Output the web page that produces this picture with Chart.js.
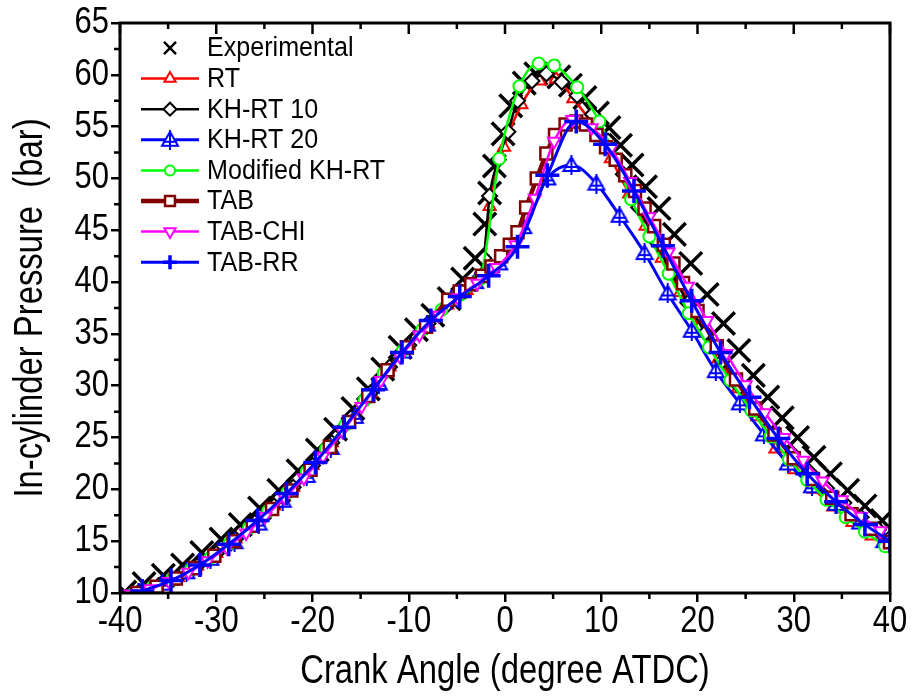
<!DOCTYPE html>
<html>
<head>
<meta charset="utf-8">
<script src="https://cdn.jsdelivr.net/npm/chart.js@4.4.1/dist/chart.umd.min.js"></script>
<style>
  html, body { margin: 0; padding: 0; background: #fff; }
  #wrap { width: 914px; height: 700px; }
</style>
</head>
<body>
<div id="wrap"><canvas id="c" width="914" height="700"></canvas></div>
<script>
// 曲柄角 / 缸内压力 数据
const expAngle = [-39.5, -37.5, -35.5, -33.5, -31.5, -29.5, -27.5, -25.5, -23.5, -21.5, -19.5, -17.6, -15.8, -14.2, -12.7, -10.9, -9.2, -7.5, -5.8, -4.4, -3.1, -2.1, -1.6, -1.1, -0.2, 0.6, 2.0, 3.2, 4.4, 5.6, 6.8, 8.3, 9.6, 10.8, 12.0, 13.2, 14.6, 16.0, 17.6, 19.3, 21.0, 22.7, 24.3, 25.8, 27.3, 28.8, 30.4, 32.1, 33.8, 35.6, 37.4, 39.2];
const expP = [10.1, 10.9, 11.7, 12.7, 13.9, 15.2, 16.6, 18.2, 19.9, 21.8, 23.8, 25.8, 27.8, 29.7, 31.6, 33.7, 35.4, 36.8, 38.4, 40.3, 42.3, 45.6, 48.6, 51.2, 54.3, 57.0, 59.2, 60.1, 60.3, 59.8, 59.0, 57.8, 56.3, 54.9, 53.2, 51.3, 49.2, 47.1, 44.6, 41.8, 38.8, 36.0, 33.4, 31.0, 28.9, 26.9, 25.0, 23.1, 21.5, 19.9, 18.4, 17.0];

const rtAngle = [-38, -36, -34, -32, -30, -28, -26, -24, -22, -20, -18, -16, -14, -12, -10, -8, -6, -4, -2.5, -1.6, -0.1, 1.7, 3.6, 5.3, 7.1, 9.0, 11.0, 12.9, 14.6, 16.3, 18.2, 20.2, 22.2, 24.2, 26.2, 28.1, 30.1, 32.1, 34.1, 36.1, 38.1, 40];
const rtP = [10.1, 10.7, 11.5, 12.6, 13.8, 15.2, 16.8, 18.4, 20.2, 22.3, 24.5, 26.9, 29.3, 31.8, 33.9, 36.0, 37.8, 39.2, 40.5, 47.3, 53.0, 57.1, 59.4, 59.6, 57.7, 55.3, 51.9, 48.5, 45.4, 42.3, 39.0, 35.7, 32.6, 29.7, 27.0, 23.9, 21.9, 20.0, 18.3, 16.8, 15.5, 14.5];

const kh10Angle = [-38, -36, -34, -32, -30, -28, -26, -24, -22, -20, -18, -16, -14, -12, -10, -8, -6, -4.5, -3.0, -2.2, -1.6, -0.7, 0.3, 1.3, 2.8, 4.3, 5.9, 7.5, 9.1, 10.7, 12.3, 13.9, 15.6, 17.3, 19.0, 20.8, 22.6, 24.4, 26.2, 28.0, 29.8, 31.6, 33.4, 35.2, 37.0, 38.8, 40];
const kh10P = [10.1, 10.7, 11.5, 12.6, 13.8, 15.2, 16.8, 18.4, 20.2, 22.3, 24.5, 26.9, 29.3, 31.8, 33.9, 36.0, 37.8, 39.0, 40.1, 42.3, 48.3, 51.8, 54.5, 57.5, 59.4, 60.1, 59.3, 58.0, 56.2, 53.6, 50.4, 47.2, 44.0, 40.9, 38.0, 35.1, 32.4, 29.9, 27.6, 25.4, 23.5, 21.7, 20.1, 18.7, 17.3, 16.1, 15.3];

const kh20Angle = [-38.1, -35.6, -33.1, -30.6, -28.1, -25.6, -23.1, -20.6, -18.1, -15.6, -13.1, -10.6, -8.1, -5.6, -3.1, -0.6, 1.9, 4.4, 6.9, 9.5, 11.9, 14.5, 16.9, 19.4, 21.9, 24.4, 26.9, 29.4, 31.9, 34.4, 36.9, 39.4];
const kh20P = [10.0, 10.9, 12.0, 13.3, 14.9, 16.7, 18.9, 21.3, 24.0, 27.0, 30.2, 33.3, 35.9, 38.3, 40.0, 41.8, 45.3, 50.0, 51.3, 49.5, 46.4, 42.8, 38.9, 35.3, 31.4, 28.3, 25.3, 22.5, 20.3, 18.6, 16.8, 15.0];

const modAngle = [-38.6, -36.6, -34.6, -32.6, -30.6, -28.6, -26.6, -24.6, -22.6, -20.6, -18.6, -16.6, -14.6, -12.6, -10.6, -8.6, -6.6, -4.6, -2.6, -0.6, 1.5, 3.5, 5.1, 7.5, 9.8, 11.5, 13.1, 15.0, 17.0, 19.1, 21.2, 23.4, 25.6, 27.6, 29.5, 31.4, 33.4, 35.4, 37.4, 39.5];
const modP = [9.9, 10.5, 11.3, 12.3, 13.4, 14.8, 16.3, 17.9, 19.7, 21.7, 23.9, 26.2, 28.6, 31.2, 33.4, 35.4, 37.3, 38.8, 40.3, 51.9, 58.9, 61.1, 60.9, 58.8, 55.5, 51.9, 48.0, 44.4, 40.8, 37.0, 33.7, 30.5, 27.6, 25.1, 22.9, 20.9, 19.0, 17.3, 15.9, 14.5];

const tabAngle = [-38.2, -36.2, -34.2, -32.2, -30.2, -28.2, -26.2, -24.2, -22.2, -20.2, -18.2, -16.2, -14.2, -12.2, -10.2, -8.2, -5.9, -4.7, -3.5, -2.4, -1.4, -0.4, 0.5, 1.3, 2.2, 3.3, 4.3, 5.2, 6.3, 7.4, 8.4, 9.5, 10.5, 11.5, 12.5, 13.5, 14.5, 15.5, 16.5, 17.5, 18.5, 20.0, 22.0, 24.0, 26.0, 28.0, 30.0, 32.0, 34.0, 36.0, 38.0, 40.0];
const tabP = [10.0, 10.6, 11.4, 12.4, 13.6, 15.0, 16.5, 18.1, 19.9, 21.9, 24.1, 26.5, 29.0, 31.5, 33.7, 35.7, 38.3, 39.1, 39.8, 40.6, 41.5, 42.5, 43.6, 44.8, 47.2, 50.0, 52.4, 54.2, 55.2, 55.5, 55.2, 54.2, 53.0, 51.8, 50.3, 48.8, 47.1, 45.4, 43.6, 41.8, 39.9, 37.2, 33.8, 30.6, 27.8, 25.3, 23.0, 21.0, 19.2, 17.6, 16.2, 14.9];

const chiAngle = [-38.9, -36.9, -34.9, -32.9, -30.9, -28.9, -26.9, -24.9, -22.9, -20.9, -18.9, -16.9, -14.9, -12.9, -10.9, -8.9, -6.9, -4.9, -2.9, -0.9, 1.1, 3.1, 5.1, 7.0, 9.0, 11.0, 13.0, 15.0, 17.0, 19.0, 21.0, 23.0, 25.0, 27.0, 29.0, 31.0, 33.0, 35.0, 37.0, 39.0];
const chiP = [9.9, 10.4, 11.1, 12.0, 13.1, 14.4, 15.8, 17.4, 19.2, 21.1, 23.2, 25.6, 28.0, 30.5, 32.8, 34.9, 36.8, 38.5, 39.9, 41.4, 43.6, 48.1, 53.6, 55.7, 54.9, 52.9, 49.7, 46.3, 42.9, 39.6, 36.3, 33.1, 30.1, 27.4, 25.0, 22.8, 20.8, 19.0, 17.4, 16.0];

const rrAngle = [-37.7, -34.7, -31.7, -28.7, -25.7, -22.7, -19.7, -16.7, -13.7, -10.7, -7.7, -4.7, -1.7, 1.3, 4.4, 7.4, 10.4, 13.4, 16.4, 19.4, 22.4, 25.4, 28.4, 31.4, 34.4, 37.4, 40];
const rrP = [10.2, 11.2, 12.7, 14.7, 17.0, 19.6, 22.6, 26.0, 29.6, 33.2, 36.3, 38.6, 40.6, 43.4, 50.3, 55.5, 53.3, 48.8, 43.5, 38.2, 33.2, 28.9, 24.9, 21.5, 18.8, 16.6, 15.0];

const xTicksStep = 10;
const yTicksStep = 5;
const xTitle = 'Crank Angle (degree ATDC)';
const yTitle = 'In-cylinder Pressure  (bar)';

const FONT = '"Liberation Sans", Arial, sans-serif';

function pts(a, p) {
    return a.map((v, i) => ({ x: v, y: p[i] }));
}

// 窄体文字（原图为 Arial Narrow 风格）
function narrowText(ctx, text, x, y, size, sx, align, rot) {
    ctx.save();
    ctx.translate(x, y);
    if (rot) ctx.rotate(rot);
    ctx.scale(sx, 1);
    ctx.font = size + 'px ' + FONT;
    ctx.fillStyle = '#000';
    ctx.textAlign = align;
    ctx.textBaseline = 'middle';
    ctx.fillText(text, 0, 0);
    ctx.restore();
}

// 三角形加十字的标记（KH-RT 20）
function triCross(size, color) {
    const c = document.createElement('canvas');
    c.width = size; c.height = size;
    const g = c.getContext('2d');
    const m = size / 2;
    g.strokeStyle = color;
    g.lineWidth = 2;
    g.beginPath();
    g.moveTo(m, 2); g.lineTo(size - 2, size - 4); g.lineTo(2, size - 4); g.closePath();
    g.fillStyle = '#fff'; g.fill(); g.stroke();
    g.beginPath();
    g.moveTo(m, 0); g.lineTo(m, size);
    g.moveTo(3, size * 0.6); g.lineTo(size - 3, size * 0.6);
    g.stroke();
    return c;
}
const kh20Marker = triCross(20, '#0000ff');

const series = [
    { label: 'Experimental', a: expAngle, p: expP, color: '#000000', line: false, style: 'crossRot', r: 16, bw: 3.5, lr: 8.5 },
    { label: 'RT', a: rtAngle, p: rtP, color: '#ff0000', line: true, lw: 2.5, style: 'triangle', r: 7, bw: 2, lr: 6.5 },
    { label: 'KH-RT 10', a: kh10Angle, p: kh10P, color: '#000000', line: true, lw: 2.5, style: 'rectRot', r: 7.5, bw: 2, lr: 6.5 },
    { label: 'KH-RT 20', a: kh20Angle, p: kh20P, color: '#0000ff', line: true, lw: 3, style: kh20Marker, r: 9, bw: 2, lr: 9 },
    { label: 'Modified KH-RT', a: modAngle, p: modP, color: '#00ff00', line: true, lw: 2.5, style: 'circle', r: 6, bw: 2, lr: 5 },
    { label: 'TAB', a: tabAngle, p: tabP, color: '#800000', line: true, lw: 4.5, style: 'rect', r: 8.5, bw: 2.5, lr: 7 },
    { label: 'TAB-CHI', a: chiAngle, p: chiP, color: '#ff00ff', line: true, lw: 2.5, style: 'triangle', rot: 180, r: 7, bw: 2, lr: 6.5 },
    { label: 'TAB-RR', a: rrAngle, p: rrP, color: '#0000ff', line: true, lw: 3, style: 'cross', r: 12, bw: 3.5, lr: 7 }
];

const datasets = series.map((s, i) => ({
    label: s.label,
    data: pts(s.a, s.p),
    showLine: s.line,
    borderColor: s.color,
    borderWidth: s.lw || 0,
    cubicInterpolationMode: 'monotone',
    pointStyle: s.style,
    pointRotation: s.rot || 0,
    pointRadius: s.r,
    pointBorderWidth: s.bw,
    pointBorderColor: s.color,
    pointBackgroundColor: s.style === 'crossRot' || s.style === 'cross' ? s.color : '#ffffff',
    order: series.length - i
}));

// 图框、次刻度、刻度标签和轴标题
const frameTicks = {
    id: 'frameTicks',
    afterDraw(chart) {
        const { ctx, chartArea: a, scales: { x, y } } = chart;
        ctx.save();
        ctx.strokeStyle = '#000';
        ctx.lineWidth = 3;
        ctx.strokeRect(a.left, a.top, a.right - a.left, a.bottom - a.top);
        ctx.lineWidth = 2.5;
        ctx.beginPath();
        for (let v = -40; v <= 40; v += 5) {
            const px = x.getPixelForValue(v);
            const major = v % 10 === 0;
            ctx.moveTo(px, a.top);
            ctx.lineTo(px, a.top + (major ? 11 : 6));
            if (!major) {
                ctx.moveTo(px, a.bottom);
                ctx.lineTo(px, a.bottom + 6);
            }
        }
        for (let v = 12.5; v < 65; v += 5) {
            const py = y.getPixelForValue(v);
            ctx.moveTo(a.left, py);
            ctx.lineTo(a.left - 6, py);
        }
        ctx.stroke();
        ctx.restore();

        x.ticks.forEach(t => narrowText(ctx, String(t.value), x.getPixelForValue(t.value), a.bottom + 29, 36, 0.86, 'center'));
        y.ticks.forEach(t => narrowText(ctx, String(t.value), a.left - 11, y.getPixelForValue(t.value), 36, 0.86, 'right'));
        narrowText(ctx, xTitle, (a.left + a.right) / 2, 672, 41, 0.8, 'center');
        narrowText(ctx, yTitle, 31, (a.top + a.bottom) / 2, 41, 0.8, 'center', -Math.PI / 2);
    }
};

// 图内图例
const innerLegend = {
    id: 'innerLegend',
    afterDatasetsDraw(chart) {
        const ctx = chart.ctx;
        const x0 = 141, x1 = 199, xm = 170, xt = 207;
        let y = 48;
        ctx.save();
        series.forEach(s => {
            if (s.line) {
                ctx.strokeStyle = s.color;
                ctx.lineWidth = s.lw;
                ctx.beginPath();
                ctx.moveTo(x0, y); ctx.lineTo(x1, y);
                ctx.stroke();
            }
            if (typeof s.style === 'object') {
                ctx.drawImage(s.style, xm - s.style.width / 2, y - s.style.height / 2);
            } else {
                ctx.strokeStyle = s.color;
                ctx.fillStyle = '#ffffff';
                ctx.lineWidth = s.style === 'crossRot' ? 2.5 : s.bw;
                Chart.helpers.drawPoint(ctx, { pointStyle: s.style, rotation: s.rot || 0, radius: s.lr, borderWidth: s.bw }, xm, y);
            }
            narrowText(ctx, s.label, xt, y + 1, 27, 0.93, 'left');
            y += 30.6;
        });
        ctx.restore();
    }
};

new Chart(document.getElementById('c'), {
    type: 'scatter',
    data: { datasets },
    plugins: [frameTicks, innerLegend],
    options: {
        responsive: false,
        animation: false,
        events: [],
        layout: { padding: { top: 23, right: 24, left: 0, bottom: 0 } },
        plugins: { legend: { display: false }, tooltip: { enabled: false } },
        scales: {
            x: {
                type: 'linear', min: -40, max: 40,
                border: { display: false },
                grid: { drawOnChartArea: false, drawTicks: true, tickLength: 9, color: '#000', lineWidth: 2.5 },
                ticks: { stepSize: xTicksStep, autoSkip: false, maxRotation: 0, display: false },
                afterFit(scale) { scale.height = 107; }
            },
            y: {
                type: 'linear', min: 10, max: 65,
                border: { display: false },
                grid: { drawOnChartArea: false, drawTicks: true, tickLength: 9, color: '#000', lineWidth: 2.5 },
                ticks: { stepSize: yTicksStep, display: false },
                afterFit(scale) { scale.width = 120; }
            }
        }
    }
});
</script>
</body>
</html>
